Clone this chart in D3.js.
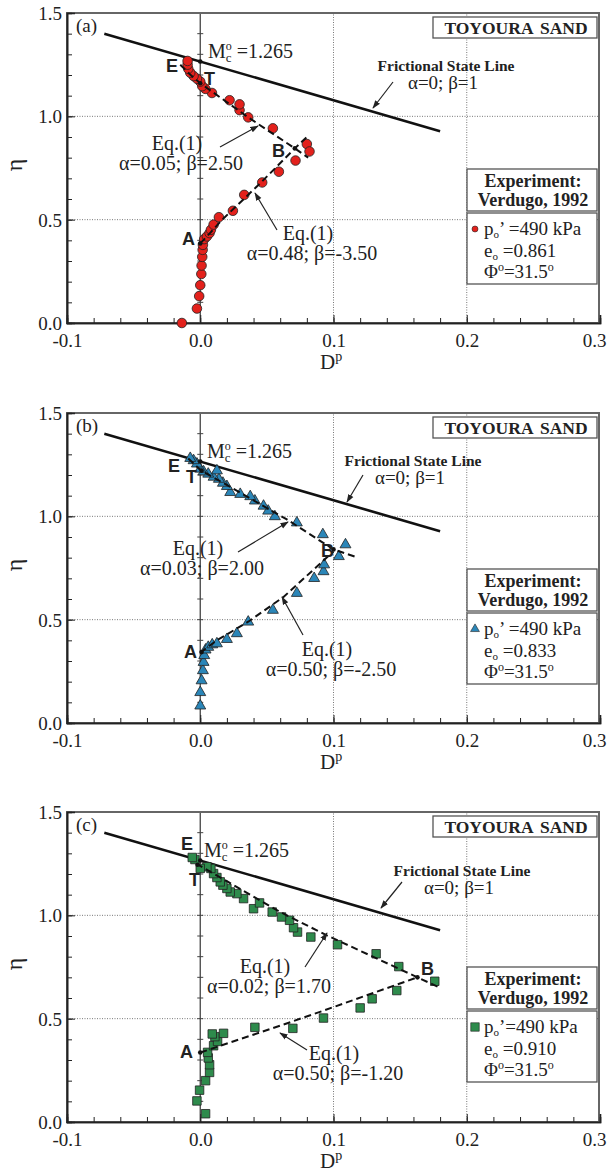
<!DOCTYPE html>
<html>
<head>
<meta charset="utf-8">
<script src="https://cdn.jsdelivr.net/npm/d3@7"></script>
<style>
  body { margin: 0; background: #fff; }
  text { font-family: "Liberation Serif", "Times New Roman", serif; fill: #222; }
</style>
</head>
<body>
<script>
var aD   = [-0.0138, -0.0025, -0.0008, 0.0, 0.0008, 0.001, 0.0015, 0.0018, 0.002, 0.003, 0.005, 0.007, 0.008, 0.010, 0.014, 0.0245, 0.033, 0.0465, 0.059, 0.0715, 0.080, 0.082, 0.0545, 0.036, 0.0295, 0.0295, 0.022, 0.0088, 0.0038, 0.0015, 0.0, -0.0025, -0.005, -0.0075, -0.009, -0.0095, -0.0095];
var aEta = [0.000, 0.070, 0.130, 0.183, 0.237, 0.278, 0.320, 0.354, 0.378, 0.406, 0.419, 0.435, 0.451, 0.476, 0.512, 0.543, 0.620, 0.680, 0.732, 0.786, 0.866, 0.830, 0.942, 0.995, 1.030, 1.058, 1.078, 1.113, 1.133, 1.146, 1.168, 1.182, 1.195, 1.211, 1.230, 1.250, 1.268];

var bD   = [0.0, 0.0, 0.001, 0.002, 0.0025, 0.003, 0.004, 0.006, 0.009, 0.0125, 0.020, 0.0275, 0.036, 0.0545, 0.0725, 0.0855, 0.0925, 0.093, 0.104, 0.109, 0.092, 0.0725, 0.056, 0.051, 0.0475, 0.041, 0.0375, 0.030, 0.0225, 0.020, 0.017, 0.014, 0.010, 0.0125, 0.006, 0.0025, 0.0, -0.0025, -0.005, -0.0075];
var bEta = [0.083, 0.148, 0.205, 0.254, 0.294, 0.327, 0.354, 0.367, 0.379, 0.384, 0.405, 0.433, 0.489, 0.546, 0.628, 0.700, 0.733, 0.766, 0.806, 0.863, 0.912, 0.969, 0.999, 1.026, 1.050, 1.075, 1.096, 1.107, 1.116, 1.145, 1.161, 1.180, 1.190, 1.221, 1.205, 1.216, 1.229, 1.254, 1.270, 1.281];

var cD   = [0.004, -0.0025, -0.0005, 0.004, 0.007, 0.007, 0.006, 0.0055, 0.010, 0.013, 0.011, 0.009, 0.0175, 0.041, 0.0695, 0.0925, 0.120, 0.129, 0.1475, 0.176, 0.149, 0.132, 0.103, 0.083, 0.073, 0.070, 0.067, 0.061, 0.054, 0.040, 0.0445, 0.0325, 0.0275, 0.0225, 0.020, 0.017, 0.015, 0.0125, 0.010, 0.008, 0.005, 0.0, -0.004, -0.006];
var cEta = [0.040, 0.102, 0.154, 0.200, 0.240, 0.277, 0.310, 0.337, 0.369, 0.390, 0.413, 0.426, 0.429, 0.458, 0.453, 0.503, 0.552, 0.596, 0.636, 0.681, 0.752, 0.814, 0.858, 0.895, 0.919, 0.940, 0.976, 0.992, 1.016, 1.032, 1.060, 1.081, 1.105, 1.113, 1.130, 1.146, 1.162, 1.183, 1.202, 1.227, 1.235, 1.227, 1.270, 1.280];

// Eq.(1) fits, upper (softening) and lower (hardening) branches
var aUpperFitD = [-0.015, -0.008, 0.0, 0.036, 0.071, 0.081];
var aUpperFitEta = [1.250, 1.205, 1.160, 0.995, 0.845, 0.800];
var aLowerFitD = [0.0, 0.008, 0.016, 0.045, 0.071, 0.080];
var aLowerFitEta = [0.385, 0.440, 0.497, 0.676, 0.845, 0.900];

var bUpperFitD = [-0.009, 0.0, 0.065, 0.100, 0.116];
var bUpperFitEta = [1.280, 1.225, 0.985, 0.840, 0.805];
var bLowerFitD = [0.0, 0.0125, 0.036, 0.0625, 0.100];
var bLowerFitEta = [0.340, 0.400, 0.490, 0.610, 0.830];

var cUpperFitD = [-0.003, 0.020, 0.060, 0.095, 0.163, 0.179];
var cUpperFitEta = [1.250, 1.165, 1.016, 0.903, 0.700, 0.652];
var cLowerFitD = [0.0, 0.060, 0.0925, 0.163];
var cLowerFitEta = [0.336, 0.466, 0.539, 0.700];

// state points M, T, B, A
var aStateD = [0.0, 0.0, 0.071, 0.0];
var aStateEta = [1.265, 1.160, 0.845, 0.385];
var bStateD = [0.0, 0.001, 0.100, 0.001];
var bStateEta = [1.265, 1.221, 0.840, 0.343];
var cStateD = [0.0, -0.002, 0.163, 0.0];
var cStateEta = [1.265, 1.245, 0.700, 0.336];

// frictional state line
var fslD = [-0.072, 0.18];
var fslEta = [1.40, 0.928];

var xTicks = [-0.1, 0.0, 0.1, 0.2, 0.3];
var yTicks = [0.0, 0.5, 1.0, 1.5];
var panelNames = ['(a)', '(b)', '(c)'];
var upperFitLabels = ['\u03b1=0.05; \u03b2=2.50', '\u03b1=0.03; \u03b2=2.00', '\u03b1=0.02; \u03b2=1.70'];
var lowerFitLabels = ['\u03b1=0.48; \u03b2=-3.50', '\u03b1=0.50; \u03b2=-2.50', '\u03b1=0.50; \u03b2=-1.20'];
var voidRatios = ['=0.861', '=0.833', '=0.910'];

var W = 609, H = 1174;
var left = 67, right = 600, plotH = 310;

var svg = d3.select('body').append('svg').attr('width', W).attr('height', H);
var defs = svg.append('defs');
defs.append('marker').attr('id', 'arr').attr('viewBox', '0 0 10 10')
  .attr('refX', 9).attr('refY', 5).attr('markerWidth', 7).attr('markerHeight', 7)
  .attr('orient', 'auto')
  .append('path').attr('d', 'M0,1.5L10,5L0,8.5z').attr('fill', '#222');

// one text element built from tspans (sub/superscripts); "stack" puts a piece
// above the previous one instead of after it
function richText(g, x, y, parts, size, weight) {
  var t = g.append('text').attr('x', x).attr('y', y)
    .style('font-size', size + 'px').style('font-weight', weight || 'normal');
  var cur = 0, lastStart = x;
  parts.forEach(function(p) {
    var off = p.dy || 0;
    var startW = t.node().getComputedTextLength();
    var ts = t.append('tspan').attr('dy', off - cur)
      .style('font-size', (p.size || size) + 'px').text(p.t);
    if (p.stack) ts.attr('x', lastStart);
    else lastStart = x + startW;
    cur = off;
  });
  return t;
}

function drawPanel(i, top, data, L) {
  var x = d3.scaleLinear().domain([-0.1, 0.3]).range([left, right]);
  var y = d3.scaleLinear().domain([0, 1.5]).range([top + plotH, top]);
  var g = svg.append('g');

  // dotted grid
  g.selectAll('.gx').data([0.1, 0.2]).enter().append('line')
    .attr('x1', x).attr('x2', x).attr('y1', y(0)).attr('y2', y(1.5))
    .attr('stroke', '#777').attr('stroke-width', 1).attr('stroke-dasharray', '1,1.5');
  g.selectAll('.gy').data([0.5, 1.0]).enter().append('line')
    .attr('x1', x(-0.1)).attr('x2', x(0.3)).attr('y1', y).attr('y2', y)
    .attr('stroke', '#777').attr('stroke-width', 1).attr('stroke-dasharray', '1,1.5');

  // zero line with small cross ticks
  g.append('line').attr('x1', x(0)).attr('x2', x(0)).attr('y1', y(0)).attr('y2', y(1.5))
    .attr('stroke', '#444').attr('stroke-width', 1.3);
  g.selectAll('.zt').data(d3.range(1, 15).map(function(k) { return k / 10; })).enter().append('line')
    .attr('x1', x(0) - 3).attr('x2', x(0) + 3).attr('y1', y).attr('y2', y)
    .attr('stroke', '#444').attr('stroke-width', 1);

  // frame
  g.append('rect').attr('x', left).attr('y', top).attr('width', right - left - 1).attr('height', plotH)
    .attr('fill', 'none').attr('stroke', '#666').attr('stroke-width', 2);

  // axes
  var fmt = function(d) { return d.toFixed(1); };
  var yMinor = g.append('g').attr('transform', 'translate(' + left + ',0)')
    .call(d3.axisLeft(y).tickValues(d3.range(0, 16).map(function(k) { return k / 10; })).tickSize(-5).tickFormat(''));
  var yMajor = g.append('g').attr('transform', 'translate(' + left + ',0)')
    .call(d3.axisLeft(y).tickValues(yTicks).tickSize(-8).tickPadding(5).tickFormat(fmt));
  var xMinor = g.append('g').attr('transform', 'translate(0,' + y(0) + ')')
    .call(d3.axisBottom(x).tickValues(d3.range(-5, 16).map(function(k) { return k / 50; })).tickSize(-5).tickFormat(''));
  var xMajor = g.append('g').attr('transform', 'translate(0,' + y(0) + ')')
    .call(d3.axisBottom(x).tickValues(xTicks).tickSize(-8).tickPadding(11).tickFormat(fmt));
  [yMinor, yMajor, xMinor, xMajor].forEach(function(a) {
    a.select('.domain').attr('stroke', '#222').attr('stroke-width', 1.6);
    a.selectAll('line').attr('stroke', '#222');
    a.selectAll('text').style('font-size', '19px').style('font-family', '"Liberation Serif", serif').attr('fill', '#222');
  });
  yMajor.selectAll('text').attr('dy', '0.35em');
  // keep the last x label inside the page
  xMajor.selectAll('text').filter(function(d) { return d === 0.3; }).attr('x', -6);

  // axis titles
  svg.append('text').attr('transform', 'translate(22,' + (top + 152) + ') rotate(-90)')
    .attr('text-anchor', 'middle').style('font-size', '24px').text('\u03b7');
  richText(svg, 320, y(0) + 46, [{t: 'D'}, {t: 'p', size: 14, dy: -8}], 21);

  // frictional state line
  var line = d3.line().x(function(d) { return x(d[0]); }).y(function(d) { return y(d[1]); });
  g.append('path').datum(d3.zip(fslD, fslEta)).attr('d', line)
    .attr('fill', 'none').attr('stroke', '#111').attr('stroke-width', 2.6);

  // experimental points
  var sym = d3.symbol().type(data.shape).size(data.size);
  g.selectAll('.pt').data(d3.zip(data.D, data.eta)).enter().append('path')
    .attr('d', sym)
    .attr('transform', function(d) { return 'translate(' + x(d[0]) + ',' + y(d[1]) + ')'; })
    .attr('fill', data.fill).attr('stroke', '#222').attr('stroke-width', 0.8);

  // Eq.(1) fits
  [[data.upD, data.upEta], [data.loD, data.loEta]].forEach(function(f) {
    g.append('path').datum(d3.zip(f[0], f[1])).attr('d', line)
      .attr('fill', 'none').attr('stroke', '#111').attr('stroke-width', 2)
      .attr('stroke-dasharray', '7,4');
  });

  // state points
  g.selectAll('.sp').data(d3.zip(data.stD, data.stEta)).enter().append('circle')
    .attr('cx', function(d) { return x(d[0]); }).attr('cy', function(d) { return y(d[1]); })
    .attr('r', 2.3).attr('fill', '#111');

  // state letters
  ['E', 'T', 'B', 'A'].forEach(function(s, k) {
    g.append('text').attr('x', L.letters[k][0]).attr('y', top + L.letters[k][1])
      .style('font-family', '"Liberation Sans", Arial, sans-serif').style('font-weight', 'bold')
      .style('font-size', '18px').attr('fill', data.labelColor).text(s);
  });

  g.append('text').attr('x', 76).attr('y', top + 19).style('font-size', '19px').text(panelNames[i]);

  // Mc label
  var mx = 208 - (i === 2 ? 4 : 0) - (i === 1 ? 1 : 0);
  richText(g, mx, top + 45, [{t: 'M'}, {t: 'c', size: 13, dy: 4}, {t: 'o', size: 12, dy: -8, stack: true},
    {t: ' =1.265'}], 20);

  // Eq.(1) annotations
  function eqLabel(cx, by, txt) {
    g.append('text').attr('x', cx).attr('y', top + by).attr('text-anchor', 'middle')
      .style('font-size', '20px').text('Eq.(1)');
    g.append('text').attr('x', cx + 4).attr('y', top + by + 20).attr('text-anchor', 'middle')
      .style('font-size', '20px').text(txt);
  }
  function arrow(a) {
    g.append('line').attr('x1', a[0]).attr('y1', top + a[1]).attr('x2', a[2]).attr('y2', top + a[3])
      .attr('stroke', '#222').attr('stroke-width', 1.2).attr('marker-end', 'url(#arr)');
  }
  eqLabel(L.eqUp[0], L.eqUp[1], upperFitLabels[i]);
  arrow(L.arUp);
  eqLabel(L.eqLo[0], L.eqLo[1], lowerFitLabels[i]);
  arrow(L.arLo);

  // frictional state line note
  g.append('text').attr('x', L.fsl[0]).attr('y', top + L.fsl[1]).attr('text-anchor', 'middle')
    .style('font-size', '15.5px').style('font-weight', 'bold').text('Frictional State Line');
  g.append('text').attr('x', L.fsl[0] - 3).attr('y', top + L.fsl[1] + 18).attr('text-anchor', 'middle')
    .style('font-size', '19px').text('\u03b1=0; \u03b2=1');
  arrow(L.arFsl);

  // title box
  g.append('rect').attr('x', 433).attr('y', top + 4).attr('width', 164).attr('height', 21)
    .attr('fill', '#fff').attr('stroke', '#555').attr('stroke-width', 1.3);
  g.append('text').attr('x', 516).attr('y', top + 21).attr('text-anchor', 'middle')
    .style('font-size', '17.5px').style('font-weight', 'bold').style('word-spacing', '3px').text('TOYOURA SAND');

  // experiment boxes
  var eb = top + L.box;
  g.append('rect').attr('x', 467).attr('y', eb).attr('width', 130).attr('height', 42)
    .attr('fill', '#fff').attr('stroke', '#555').attr('stroke-width', 1.3);
  g.append('text').attr('x', 533).attr('y', eb + 18).attr('text-anchor', 'middle')
    .style('font-size', '18px').style('font-weight', 'bold').text('Experiment:');
  g.append('text').attr('x', 533).attr('y', eb + 37).attr('text-anchor', 'middle')
    .style('font-size', '18px').style('font-weight', 'bold').text('Verdugo, 1992');
  g.append('rect').attr('x', 467).attr('y', eb + 44).attr('width', 130).attr('height', 71)
    .attr('fill', '#fff').attr('stroke', '#555').attr('stroke-width', 1.3);
  g.append('path').attr('d', d3.symbol().type(data.shape).size(data.legendSize))
    .attr('transform', 'translate(475,' + (eb + 60) + ')')
    .attr('fill', data.fill).attr('stroke', '#222').attr('stroke-width', 0.6);
  var tx = 484;
  richText(g, tx, eb + 66, [{t: 'p'}, {t: 'o', size: 11, dy: 3}, {t: i === 2 ? '\u2019=490 kPa' : '\u2019 =490 kPa'}], 19);
  richText(g, tx, eb + 88, [{t: 'e'}, {t: 'o', size: 11, dy: 3}, {t: ' ' + voidRatios[i]}], 19);
  richText(g, tx, eb + 109, [{t: '\u03a6'}, {t: 'o', size: 12, dy: -7}, {t: '=31.5'}, {t: 'o', size: 12, dy: -7}], 19);
}

var layouts = [
  { letters: [[166, 59], [204, 72], [272, 144], [182, 232]],
    eqUp: [177, 137], arUp: [220, 134, 258, 113],
    eqLo: [308, 227], arLo: [277, 217, 255, 180],
    fsl: [446, 58], arFsl: [393, 69, 373, 95], box: 156 },
  { letters: [[168, 59], [186, 70], [321, 144], [184, 245]],
    eqUp: [198, 142], arUp: [238, 139, 288, 109],
    eqLo: [327, 243], arLo: [303, 222, 282, 184],
    fsl: [413, 53], arFsl: [363, 62, 347, 89], box: 156 },
  { letters: [[181, 38], [189, 74], [421, 163], [180, 246]],
    eqUp: [265, 161], arUp: [305, 155, 327, 121],
    eqLo: [334, 248], arLo: [307, 238, 280, 221],
    fsl: [462, 64], arFsl: [402, 70, 381, 96], box: 155 }
];

var panels = [
  { D: aD, eta: aEta, upD: aUpperFitD, upEta: aUpperFitEta, loD: aLowerFitD, loEta: aLowerFitEta,
    stD: aStateD, stEta: aStateEta, shape: d3.symbolCircle, size: 72, legendSize: 28,
    fill: '#e3211c', labelColor: '#e3211c' },
  { D: bD, eta: bEta, upD: bUpperFitD, upEta: bUpperFitEta, loD: bLowerFitD, loEta: bLowerFitEta,
    stD: bStateD, stEta: bStateEta, shape: d3.symbolTriangle, size: 52, legendSize: 34,
    fill: '#2b86b8', labelColor: '#1a9bd7' },
  { D: cD, eta: cEta, upD: cUpperFitD, upEta: cUpperFitEta, loD: cLowerFitD, loEta: cLowerFitEta,
    stD: cStateD, stEta: cStateEta, shape: d3.symbolSquare, size: 72, legendSize: 72,
    fill: '#2e8b4c', labelColor: '#22a04b' }
];

var tops = [13, 413, 812];
panels.forEach(function(p, i) { drawPanel(i, tops[i], p, layouts[i]); });
</script>
</body>
</html>
